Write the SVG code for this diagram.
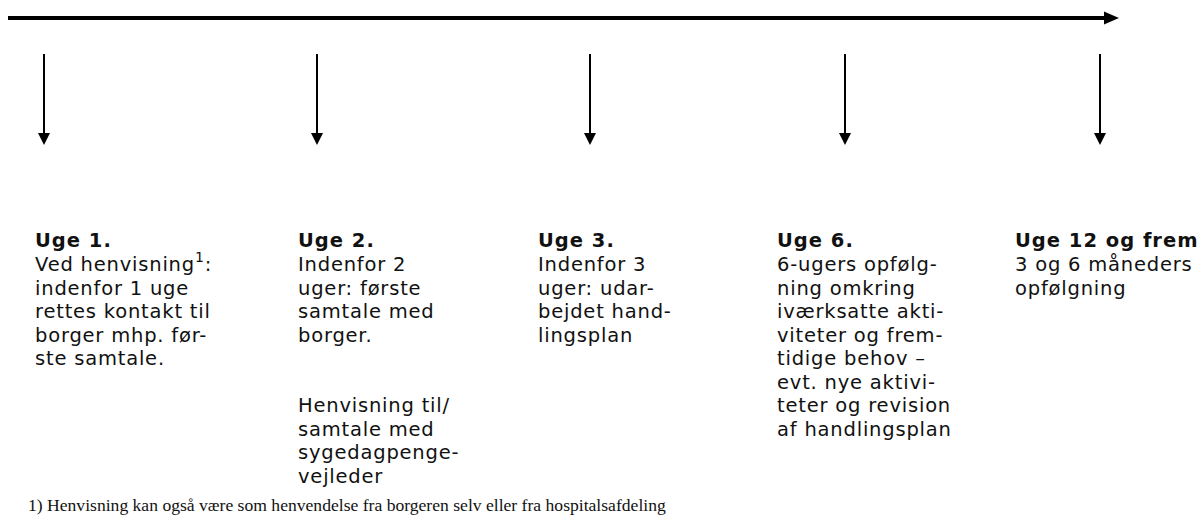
<svg xmlns="http://www.w3.org/2000/svg" width="1203" height="521" viewBox="0 0 1203 521">
<defs>
<style>
.t{font-family:"DejaVu Sans",Verdana,sans-serif;font-size:19.5px;letter-spacing:0.8px;fill:#111}
.h{font-weight:bold;letter-spacing:1px}
.fn{font-family:"Liberation Serif","Times New Roman",serif;font-size:17.6px;fill:#111}
.down{stroke:#000;stroke-width:2;fill:none}
</style>
</defs>
<rect width="1203" height="521" fill="#fff"/>
<g id="connectors">
<line x1="8" y1="18" x2="1106" y2="18" stroke="#000" stroke-width="4"/>
<polygon points="1104,11.5 1119,18 1104,24.5" fill="#000"/>
<path class="down" d="M44,54 V134"/><polygon points="38,133 50,133 44,145" fill="#000"/>
<path class="down" d="M317,54 V134"/><polygon points="311,133 323,133 317,145" fill="#000"/>
<path class="down" d="M590,54 V134"/><polygon points="584,133 596,133 590,145" fill="#000"/>
<path class="down" d="M845,54 V134"/><polygon points="839,133 851,133 845,145" fill="#000"/>
<path class="down" d="M1100,54 V134"/><polygon points="1094,133 1106,133 1100,145" fill="#000"/>
</g>
<g id="uge1">
<text class="t h" x="35" y="247">Uge 1.</text>
<text class="t" x="35" y="271">Ved henvisning<tspan font-size="14" dy="-9">1</tspan><tspan dy="9">:</tspan></text>
<text class="t" x="35" y="294.5">indenfor 1 uge</text>
<text class="t" x="35" y="318">rettes kontakt til</text>
<text class="t" x="35" y="341.5">borger mhp. før-</text>
<text class="t" x="35" y="365">ste samtale.</text>
</g>
<g id="uge2">
<text class="t h" x="298" y="247">Uge 2.</text>
<text class="t" x="298" y="271">Indenfor 2</text>
<text class="t" x="298" y="294.5">uger: første</text>
<text class="t" x="298" y="318">samtale med</text>
<text class="t" x="298" y="341.5">borger.</text>
<text class="t" x="298" y="412">Henvisning til/</text>
<text class="t" x="298" y="435.5">samtale med</text>
<text class="t" x="298" y="459">sygedagpenge-</text>
<text class="t" x="298" y="482.5">vejleder</text>
</g>
<g id="uge3">
<text class="t h" x="538" y="247">Uge 3.</text>
<text class="t" x="538" y="271">Indenfor 3</text>
<text class="t" x="538" y="294.5">uger: udar-</text>
<text class="t" x="538" y="318">bejdet hand-</text>
<text class="t" x="538" y="341.5">lingsplan</text>
</g>
<g id="uge6">
<text class="t h" x="777" y="247">Uge 6.</text>
<text class="t" x="777" y="271">6-ugers opfølg-</text>
<text class="t" x="777" y="294.5">ning omkring</text>
<text class="t" x="777" y="318">iværksatte akti-</text>
<text class="t" x="777" y="341.5">viteter og frem-</text>
<text class="t" x="777" y="365">tidige behov –</text>
<text class="t" x="777" y="388.5">evt. nye aktivi-</text>
<text class="t" x="777" y="412">teter og revision</text>
<text class="t" x="777" y="435.5">af handlingsplan</text>
</g>
<g id="uge12">
<text class="t h" x="1015" y="247">Uge 12 og frem</text>
<text class="t" x="1015" y="271">3 og 6 måneders</text>
<text class="t" x="1015" y="294.5">opfølgning</text>
</g>
<g id="footnote">
<text class="fn" x="28" y="511">1) Henvisning kan også være som henvendelse fra borgeren selv eller fra hospitalsafdeling</text>
</g>
</svg>
